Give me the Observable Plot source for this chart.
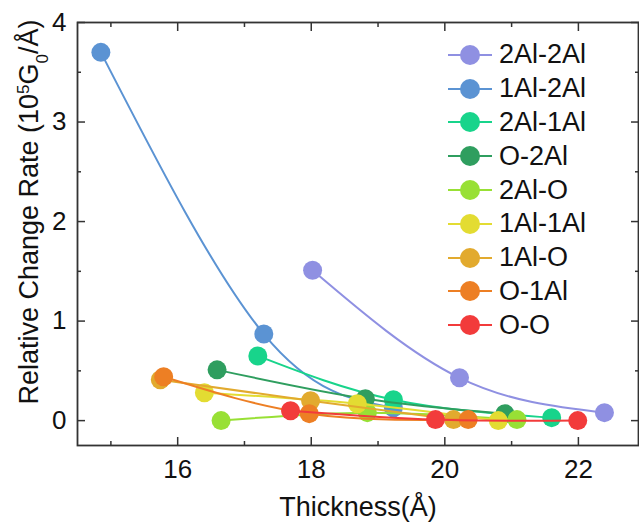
<!DOCTYPE html>
<html><head><meta charset="utf-8">
<script src="https://cdn.jsdelivr.net/npm/d3@7"></script>
<script src="https://cdn.jsdelivr.net/npm/@observablehq/plot@0.6"></script>
<style>
body{margin:0;background:#fff;}
#wrap{position:relative;width:639px;height:524px;font-family:"Liberation Sans",Arial,sans-serif;}
#legend{position:absolute;left:446px;top:38px;}
.row{display:flex;align-items:center;height:33.8px;font-size:27px;color:#111;white-space:nowrap;}
.row svg{margin-right:5px;}
</style></head><body><div id="wrap"></div>
<script>
const seriesNames = ["2Al-2Al","1Al-2Al","2Al-1Al","O-2Al","2Al-O","1Al-1Al","1Al-O","O-1Al","O-O"];
const seriesColors = ["#8f90e2","#5b93d3","#18d48b","#2f9e5f","#98e035","#e3dc32","#e2aa2e","#ed7f24","#f23b3b"];

const x_2Al_2Al = [18.02, 20.22, 22.39], y_2Al_2Al = [1.51, 0.43, 0.08];
const x_1Al_2Al = [14.85, 17.29, 19.23], y_1Al_2Al = [3.70, 0.87, 0.13];
const x_2Al_1Al = [17.20, 19.23, 21.60], y_2Al_1Al = [0.65, 0.21, 0.03];
const x_O_2Al   = [16.59, 18.81, 20.90], y_O_2Al   = [0.51, 0.22, 0.07];
const x_2Al_O   = [16.65, 18.84, 21.08], y_2Al_O   = [0.00, 0.08, 0.01];
const x_1Al_1Al = [16.40, 18.69, 20.80], y_1Al_1Al = [0.28, 0.17, 0.00];
const x_1Al_O   = [15.74, 17.99, 20.13], y_1Al_O   = [0.41, 0.20, 0.01];
const x_O_1Al   = [15.79, 17.97, 20.35], y_O_1Al   = [0.44, 0.07, 0.01];
const x_O_O     = [17.69, 19.86, 21.99], y_O_O     = [0.10, 0.01, 0.00];

const xMajorTicks = [16, 18, 20, 22];
const xMinorTicks = [15, 17, 19, 21];
const yMajorTicks = [0, 1, 2, 3, 4];
const yMinorTicks = [0.5, 1.5, 2.5, 3.5];

const xs = [x_2Al_2Al, x_1Al_2Al, x_2Al_1Al, x_O_2Al, x_2Al_O, x_1Al_1Al, x_1Al_O, x_O_1Al, x_O_O];
const ys = [y_2Al_2Al, y_1Al_2Al, y_2Al_1Al, y_O_2Al, y_2Al_O, y_1Al_1Al, y_1Al_O, y_O_1Al, y_O_O];

const seriesMarks = [];
seriesNames.forEach((name, i) => {
  const data = xs[i].map((x, j) => ({x, y: ys[i][j], s: name}));
  seriesMarks.push(Plot.line(data, {x: "x", y: "y", stroke: seriesColors[i], strokeWidth: 2, curve: "natural"}));
  seriesMarks.push(Plot.dot(data, {x: "x", y: "y", r: 9.5, fill: seriesColors[i], stroke: "none"}));
});

const axisCol = "#333";
const noLabel = () => "";
const plot = Plot.plot({
  width: 639, height: 524,
  marginLeft: 77, marginRight: 1, marginTop: 22, marginBottom: 79,
  style: {fontFamily: "Liberation Sans, Arial, sans-serif", fontSize: "26px", color: "#111", background: "#fff"},
  x: {domain: [14.5, 22.9]},
  y: {domain: [-0.25, 4]},
  marks: [
    Plot.axisX({anchor: "bottom", ticks: xMajorTicks, tickSize: -8, tickPadding: 22, tickFormat: d3.format("d"), label: null, stroke: axisCol, strokeWidth: 1.5, fontSize: 26}),
    Plot.axisX({anchor: "bottom", ticks: xMinorTicks, tickSize: -4, tickFormat: noLabel, label: null, stroke: axisCol, strokeWidth: 1.5}),
    Plot.axisX({anchor: "top", ticks: xMajorTicks, tickSize: -8, tickFormat: noLabel, label: null, stroke: axisCol, strokeWidth: 1.5}),
    Plot.axisX({anchor: "top", ticks: xMinorTicks, tickSize: -4, tickFormat: noLabel, label: null, stroke: axisCol, strokeWidth: 1.5}),
    Plot.axisY({anchor: "left", ticks: yMajorTicks, tickSize: -8, tickPadding: 19, tickFormat: d3.format("d"), label: null, stroke: axisCol, strokeWidth: 1.5, fontSize: 26}),
    Plot.axisY({anchor: "left", ticks: yMinorTicks, tickSize: -4, tickFormat: noLabel, label: null, stroke: axisCol, strokeWidth: 1.5}),
    Plot.axisY({anchor: "right", ticks: yMajorTicks, tickSize: -8, tickFormat: noLabel, label: null, stroke: axisCol, strokeWidth: 1.5}),
    Plot.axisY({anchor: "right", ticks: yMinorTicks, tickSize: -4, tickFormat: noLabel, label: null, stroke: axisCol, strokeWidth: 1.5}),
    Plot.frame({stroke: axisCol, strokeWidth: 1.8}),
    ...seriesMarks,
    Plot.text(["Thickness(Å)"], {frameAnchor: "bottom", dy: 70, fontSize: 27, fill: "#111"})
  ]
});

// rotated y-axis title with real super/subscripts
const yTitle = d3.select(plot).append("text")
  .attr("transform", "translate(29,212) rotate(-90)")
  .attr("text-anchor", "middle")
  .attr("dy", "0.35em")
  .attr("font-size", 27)
  .attr("fill", "#111");
yTitle.append("tspan").text("Relative Change Rate (10");
yTitle.append("tspan").attr("baseline-shift", "super").attr("font-size", 17).text("5");
yTitle.append("tspan").text("G");
yTitle.append("tspan").attr("baseline-shift", "sub").attr("font-size", 17).text("0");
yTitle.append("tspan").text("/Å)");

const wrap = document.getElementById("wrap");
wrap.appendChild(plot);

const legend = document.createElement("div");
legend.id = "legend";
seriesNames.forEach((name, i) => {
  const row = document.createElement("div");
  row.className = "row";
  row.innerHTML = `<svg width="48" height="24"><line x1="2" x2="46" y1="12" y2="12" stroke="${seriesColors[i]}" stroke-width="2"/><circle cx="24" cy="12" r="10" fill="${seriesColors[i]}"/></svg><span>${name}</span>`;
  legend.appendChild(row);
});
wrap.appendChild(legend);
</script></body></html>
